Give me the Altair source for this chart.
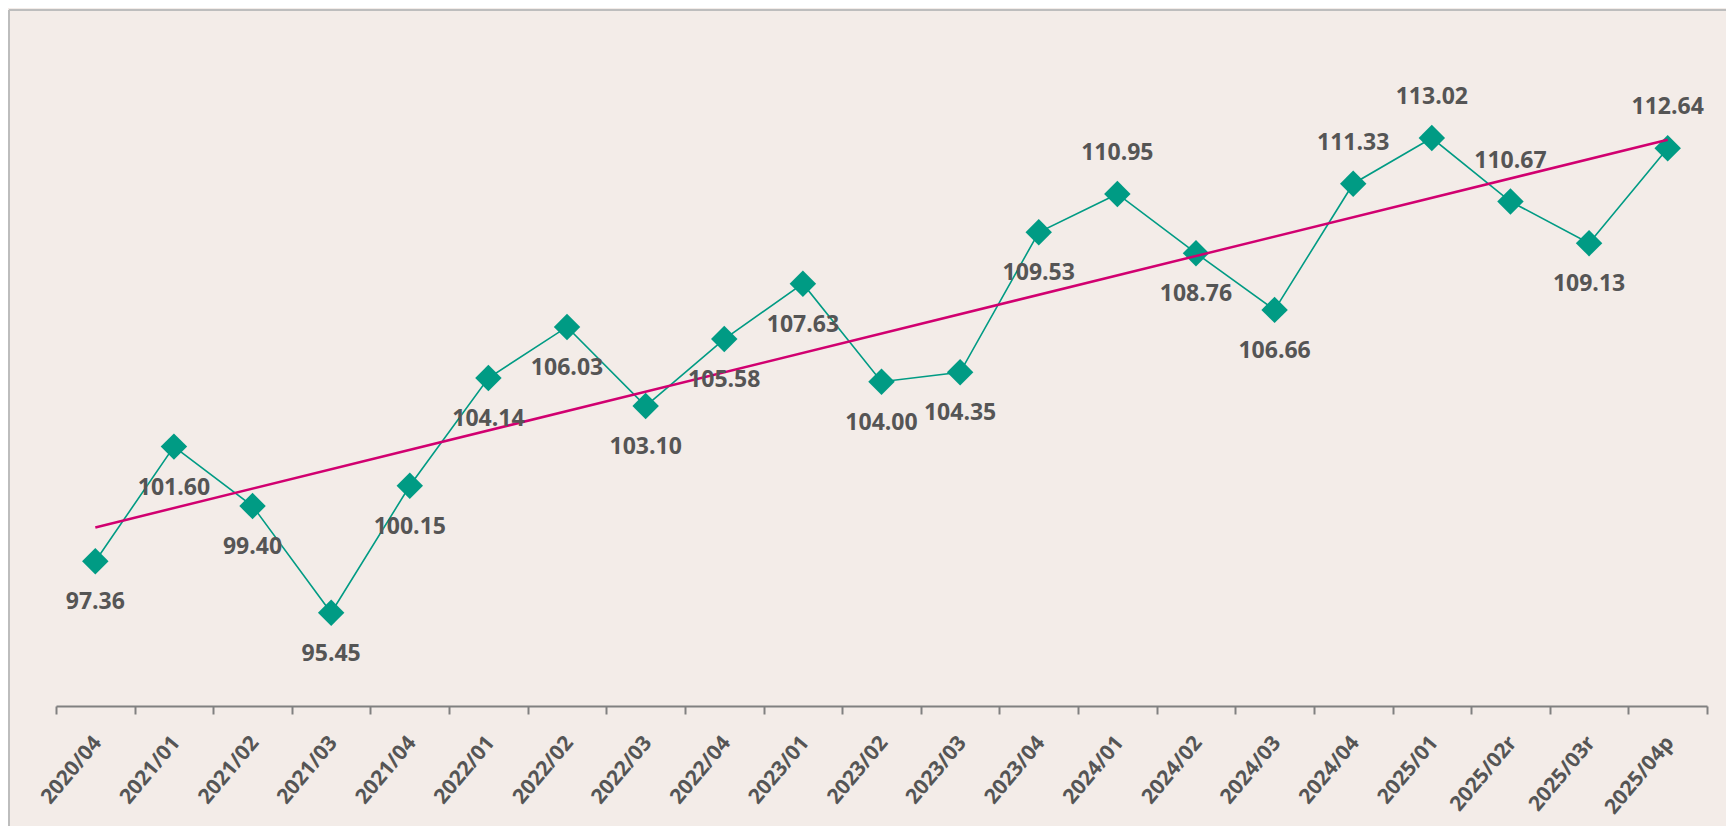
import altair as alt
import pandas as pd

quarters = ["2020/04", "2021/01", "2021/02", "2021/03", "2021/04",
            "2022/01", "2022/02", "2022/03", "2022/04",
            "2023/01", "2023/02", "2023/03", "2023/04",
            "2024/01", "2024/02", "2024/03", "2024/04",
            "2025/01", "2025/02r", "2025/03r", "2025/04p"]
values = [97.36, 101.60, 99.40, 95.45, 100.15,
          104.14, 106.03, 103.10, 105.58,
          107.63, 104.00, 104.35, 109.53,
          110.95, 108.76, 106.66, 111.33,
          113.02, 110.67, 109.13, 112.64]
label_side = ["below", "below", "below", "below", "below",
              "below", "below", "below", "below",
              "below", "below", "below", "below",
              "above", "below", "below", "above",
              "above", "above", "below", "above"]

records = [{"idx": i, "q": q, "value": v, "side": s, "lbl": f"{v:.2f}"}
           for i, (q, v, s) in enumerate(zip(quarters, values, label_side))]
df = pd.DataFrame(records)

TEAL = "#009B84"
MAGENTA = "#D10070"
TXT = "#555555"
W, H = 1651, 689

xenc = alt.X("q:N", sort=quarters,
             scale=alt.Scale(type="band", paddingInner=0, paddingOuter=0),
             axis=alt.Axis(title=None, tickBand="extent", labelAngle=-50,
                           labelAlign="right", labelBaseline="middle",
                           labelFont="Open Sans", labelFontWeight="bold",
                           labelFontSize=21, labelColor=TXT, labelPadding=25,
                           labelOffset=2,
                           domainColor="#808080", domainWidth=2,
                           tickColor="#808080", tickWidth=2, tickSize=8,
                           grid=False))
yenc = alt.Y("value:Q", scale=alt.Scale(domain=[92, 117.5], nice=False, zero=False),
             axis=None)

base = alt.Chart(df)

line = base.mark_line(color=TEAL, strokeWidth=1.6).encode(x=xenc, y=yenc)
pts = base.mark_point(shape="diamond", filled=True, size=700, color=TEAL,
                      opacity=1).encode(x=xenc, y=yenc)

trend = base.transform_regression("idx", "value").transform_lookup(
    lookup="idx",
    from_=alt.LookupData(alt.Data(values=records), key="idx", fields=["q"])
).mark_line(color=MAGENTA, strokeWidth=2.5).encode(x=xenc, y=yenc)

txt_kw = dict(font="Open Sans", fontWeight="bold", fontSize=23, color=TXT,
              baseline="middle", align="center")
below = base.transform_filter(alt.datum.side == "below").mark_text(
    dy=41, **txt_kw).encode(x=xenc, y=yenc, text="lbl:N")
above = base.transform_filter(alt.datum.side == "above").mark_text(
    dy=-41, **txt_kw).encode(x=xenc, y=yenc, text="lbl:N")

frame_top = base.mark_rule(color="#bdbdbd", strokeWidth=2).encode(
    x=alt.value(-47), x2=alt.value(W + 100), y=alt.value(-7))
frame_left = base.mark_rule(color="#bdbdbd", strokeWidth=2).encode(
    x=alt.value(-47), y=alt.value(-7), y2=alt.value(H + 200))

chart = alt.layer(frame_top, frame_left, line, pts, trend, below, above).properties(
    width=W, height=H,
    autosize=alt.AutoSizeParams(type="none"),
    padding={"left": 48, "top": 9, "right": 19, "bottom": 120},
    background="#f3ece8",
).configure_view(stroke=None)

chart.save("out.html", embed_options={"renderer": "svg", "actions": False})
